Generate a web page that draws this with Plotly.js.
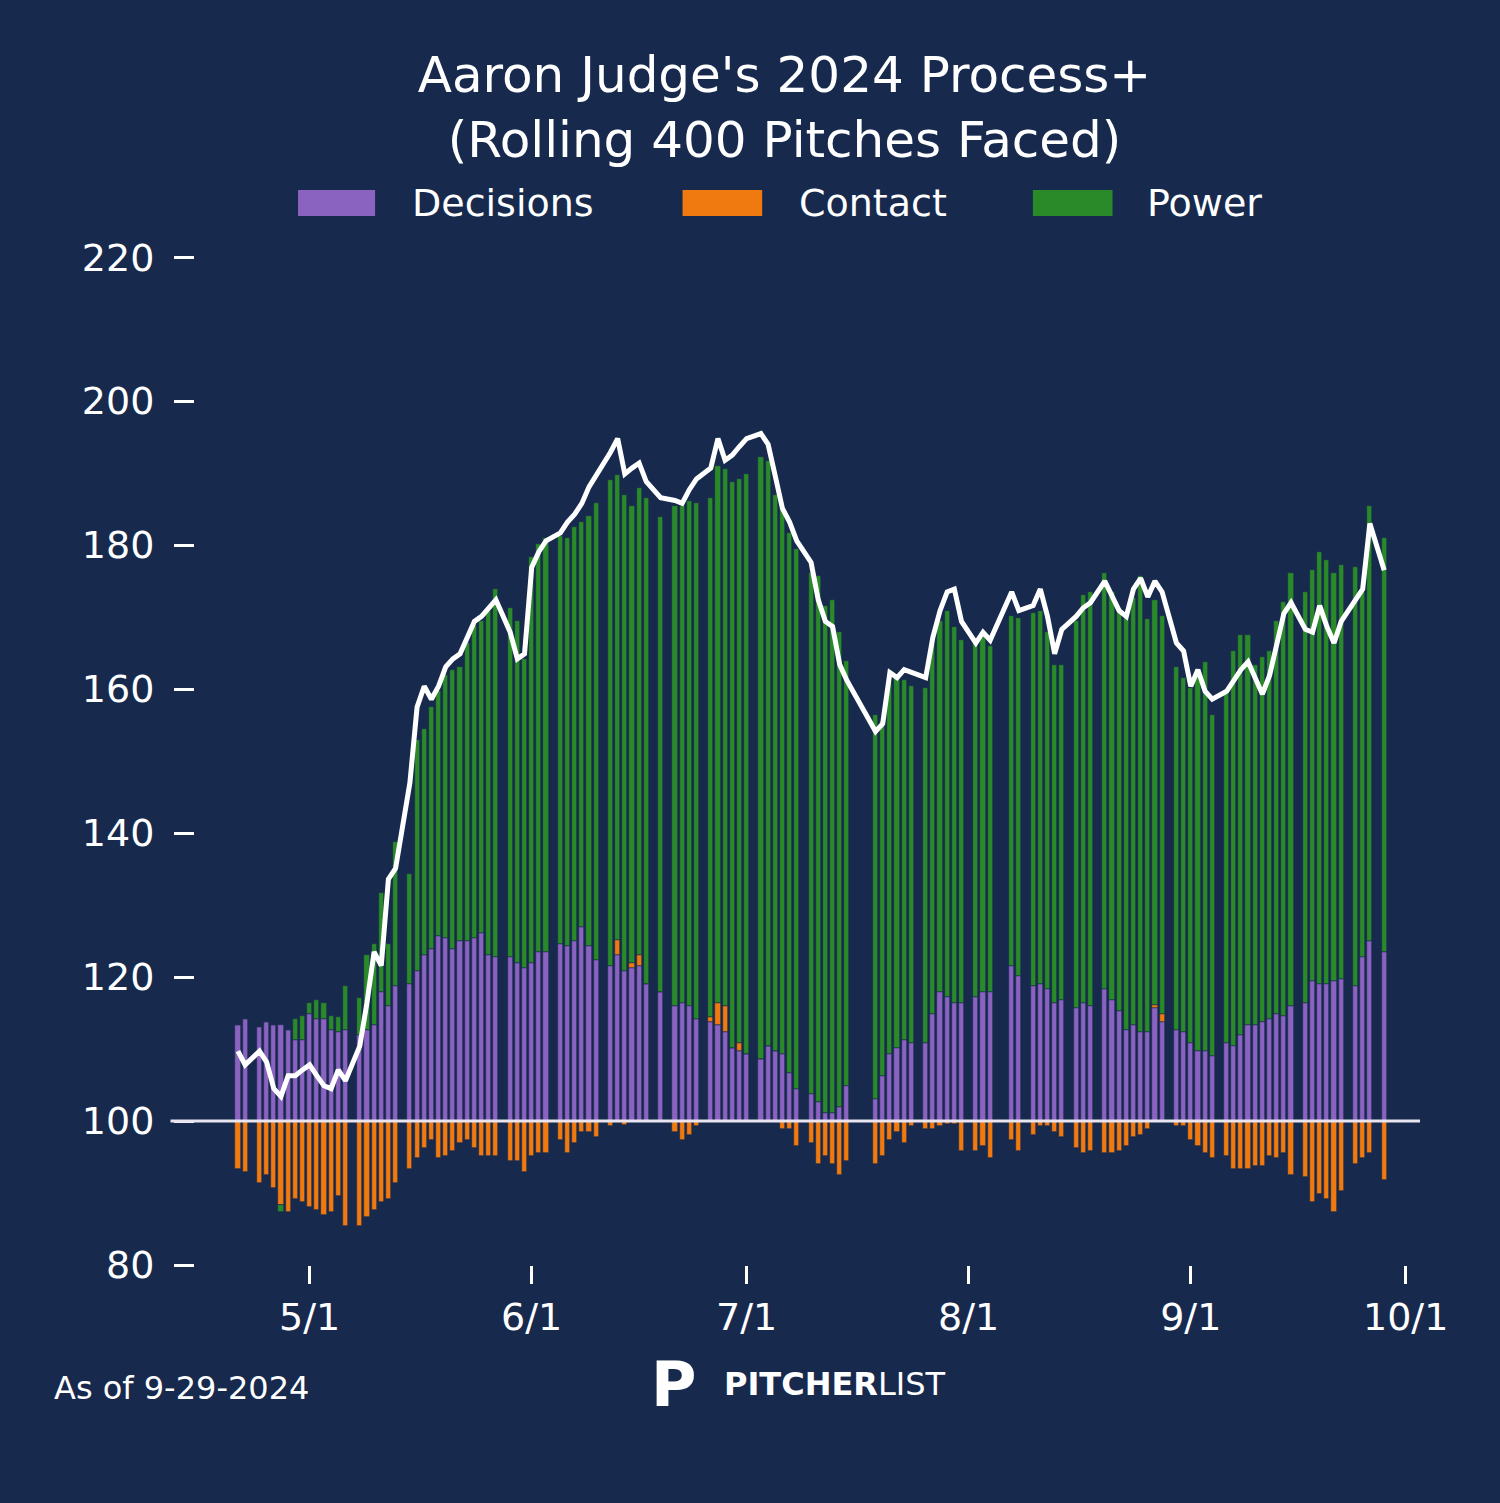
<!DOCTYPE html>
<html>
<head>
<meta charset="utf-8">
<script src="https://cdn.plot.ly/plotly-3.0.1.min.js"></script>
<style>
  html, body { margin: 0; padding: 0; background: #172a4e; }
  #chart { width: 1500px; height: 1503px; }
</style>
</head>
<body>
<div id="chart"></div>
<script>
// game days (month/day, 2024)
var days = [
  "4/21","4/22","4/24","4/25","4/26","4/27","4/28","4/29","4/30","5/1","5/2","5/3","5/4","5/5","5/6",
  "5/8","5/9","5/10","5/11","5/12","5/13","5/15","5/16","5/17","5/18","5/19","5/20","5/21","5/22","5/23",
  "5/24","5/25","5/26","5/27","5/29","5/30","5/31","6/1","6/2","6/3","6/5","6/6","6/7","6/8","6/9","6/10",
  "6/12","6/13","6/14","6/15","6/16","6/17","6/19","6/21","6/22","6/23","6/24","6/26","6/27","6/28","6/29",
  "6/30","7/1","7/3","7/4","7/5","7/6","7/7","7/8","7/10","7/11","7/12","7/13","7/14","7/15",
  "7/19","7/20","7/21","7/22","7/23","7/24","7/26","7/27","7/28","7/29","7/30","7/31","8/2","8/3","8/4",
  "8/7","8/8","8/10","8/11","8/12","8/13","8/14","8/16","8/17","8/18","8/20","8/21","8/22","8/23","8/24",
  "8/25","8/26","8/27","8/28","8/30","8/31","9/1","9/2","9/3","9/4","9/6","9/7","9/8","9/9","9/10",
  "9/11","9/12","9/13","9/14","9/15","9/17","9/18","9/19","9/20","9/21","9/22","9/24","9/25","9/26","9/28"
];

// components, as points above / below 100
var decisions = [
  13.4,14.2,13.1,13.8,13.4,13.4,12.7,11.2,11.2,14.9,14.2,14.2,12.7,12.3,12.7,
  11.9,12.7,13.4,17.9,16.0,18.7,19.0,20.9,23.1,23.9,25.7,25.4,23.9,25.0,25.0,
  25.4,26.1,23.1,22.8,22.8,22.0,21.3,22.0,23.5,23.5,24.6,24.3,25.0,26.9,24.3,22.4,
  21.6,23.1,20.9,21.3,21.6,19.0,17.9,16.0,16.4,16.0,14.2,13.8,13.4,12.3,10.1,
  9.7,9.3,8.6,10.4,9.7,9.3,6.7,4.5,3.7,2.6,1.1,1.1,1.9,4.9,
  3.0,6.3,9.3,10.1,11.2,10.8,10.8,14.9,17.9,17.2,16.4,16.4,17.2,17.9,17.9,
  21.6,20.1,18.7,19.0,18.3,16.4,16.8,15.7,16.4,16.0,18.3,16.8,15.3,12.7,13.4,
  12.3,12.3,15.7,13.8,12.7,12.3,10.8,9.7,9.7,9.0,10.8,10.4,11.9,13.4,13.4,
  13.8,14.2,14.9,14.6,16.0,16.4,19.4,19.0,19.0,19.4,19.8,18.7,22.8,25.0,23.5
];
var contact = [
  -6.7,-7.1,-8.6,-7.5,-9.3,-11.6,-12.7,-10.8,-11.2,-11.9,-12.3,-13.1,-12.7,-10.4,-14.6,
  -14.6,-13.4,-12.3,-11.2,-10.8,-8.6,-6.7,-5.2,-3.7,-2.6,-5.2,-4.9,-4.1,-3.0,-2.6,
  -3.7,-4.9,-4.9,-4.9,-5.6,-5.6,-7.1,-4.9,-4.5,-4.5,-2.6,-4.5,-3.0,-1.5,-1.5,-2.2,
  -0.7,2.0,-0.5,0.7,1.5,0,0,-1.5,-2.6,-1.9,-0.7,0.7,3.0,3.7,0,
  1.1,0,0,0,0,-1.1,-1.1,-3.4,-3.0,-6.0,-4.9,-6.0,-7.5,-5.6,
  -6.0,-4.9,-2.6,-1.5,-3.0,-0.7,-1.1,-1.1,-0.7,-0.4,-0.4,-4.1,-4.1,-3.4,-5.2,
  -2.6,-4.1,-1.9,-0.7,-0.7,-1.5,-2.2,-3.7,-4.5,-4.1,-4.5,-4.5,-4.1,-3.4,-2.2,
  -1.9,-1.1,0.4,1.1,-0.7,-0.7,-2.6,-3.4,-4.5,-5.2,-4.9,-6.7,-6.7,-6.7,-6.3,
  -6.3,-4.9,-5.2,-4.5,-7.5,-7.8,-11.2,-10.1,-10.8,-12.7,-9.7,-6.0,-5.2,-4.5,-8.2
];
var power = [
  0,0,0,0,0,-1.0,0,3.0,3.4,1.5,2.6,2.2,1.9,2.2,6.0,
  5.2,10.4,11.2,13.8,8.6,20.1,15.3,32.1,31.3,33.6,34.0,36.6,38.8,38.1,41.4,
  43.3,43.3,47.8,51.1,48.5,47.4,42.9,56.3,56.7,57.5,56.7,56.7,57.5,56.3,59.7,63.4,
  67.5,64.7,66.0,63.5,64.9,67.5,66.0,69.4,69.0,70.1,71.6,72.0,74.6,74.6,78.7,
  78.4,80.6,83.6,81.3,77.2,75.7,75.0,75.0,72.4,73.1,70.5,71.3,66.0,59.0,
  53.4,49.3,51.5,51.5,50.0,49.6,49.3,51.5,51.5,53.7,52.2,50.4,49.3,49.3,48.1,
  48.5,49.8,51.9,51.9,49.6,47.0,46.6,53.7,56.7,57.5,57.8,56.7,56.0,57.5,59.3,
  63.4,57.5,56.3,55.2,50.4,49.3,49.3,52.9,54.1,47.4,48.5,54.9,55.6,54.1,50.0,
  50.7,51.1,54.5,57.5,60.1,57.1,57.1,60.1,59.0,56.7,57.5,58.2,50.7,60.4,57.5
];
// overall Process+
var processPlus = [
  109.7,107.8,109.7,108.2,104.5,103.4,106.3,106.3,107.1,107.8,106.3,104.9,104.5,107.1,105.6,
  110.4,116.4,123.5,121.6,133.6,135.1,147.0,157.5,160.4,158.6,160.4,163.1,164.2,164.9,167.2,
  169.4,170.1,171.3,172.4,167.9,164.2,164.9,176.9,179.1,180.6,181.7,183.2,184.3,185.8,188.1,189.6,
  192.9,194.8,189.9,190.7,191.4,188.8,186.6,186.2,185.8,187.7,189.2,190.7,194.8,191.8,192.5,
  193.7,194.8,195.5,194.0,189.6,185.1,183.2,180.6,177.6,172.4,169.4,168.7,163.4,161.2,
  154.1,155.2,162.3,161.6,162.7,162.3,161.6,167.2,170.9,173.5,173.9,169.4,166.4,167.9,166.8,
  173.5,170.9,171.6,173.9,170.1,164.9,168.3,170.1,171.3,172.0,175.0,172.8,170.9,170.1,173.9,
  175.4,172.8,175.0,173.5,166.4,165.3,160.4,162.7,159.7,158.6,159.7,161.2,162.7,163.8,161.6,
  159.3,161.9,166.4,170.5,172.0,168.3,167.9,171.6,168.7,166.4,169.4,172.4,173.9,183.0,176.5
];
var yTicks = [80, 100, 120, 140, 160, 180, 200, 220];
var xTicks = ["5/1", "6/1", "7/1", "8/1", "9/1", "10/1"];
var seriesNames = ["Decisions", "Contact", "Power"];
var seriesColors = ["#8a62c0", "#f07a10", "#2a8a2a"];

function toIso(md) {
  var p = md.split("/");
  return "2024-" + ("0" + p[0]).slice(-2) + "-" + ("0" + p[1]).slice(-2);
}
var x = days.map(toIso);
var bg = "#172a4e";
var barW = 0.72 * 86400000;
var edge = { color: bg, width: 0.6 };
var values = [decisions, contact, power];

var data = values.map(function (v, i) {
  return { type: "bar", name: seriesNames[i], x: x, y: v, width: barW,
    marker: { color: seriesColors[i], line: edge }, showlegend: false };
});
data.push({ type: "scatter", mode: "lines", x: x,
  y: processPlus.map(function (v) { return v - 100; }),
  line: { color: "white", width: 5 }, showlegend: false, hoverinfo: "skip" });

// legend drawn by hand: wide colour boxes like the original
var legX = [[0.0841, 0.147, 0.1755], [0.398, 0.463, 0.4914], [0.684, 0.749, 0.7755]];
var shapes = [
  { type: "line", xref: "paper", yref: "y", x0: -0.02, x1: 1.0, y0: 0, y1: 0,
    line: { color: "#e8e4f0", width: 3 } },
];
var annotations = [
  { text: "As of 9-29-2024", xref: "paper", yref: "paper", x: -0.117, y: -0.121,
    xanchor: "left", yanchor: "middle", showarrow: false, font: { size: 32, color: "white" } },
  { text: "<b>P</b>", xref: "paper", yref: "paper", x: 0.371, y: -0.118,
    xanchor: "left", yanchor: "middle", showarrow: false, font: { size: 62, color: "white" } },
  { text: "<b>PITCHER</b>LIST", xref: "paper", yref: "paper", x: 0.43, y: -0.117,
    xanchor: "left", yanchor: "middle", showarrow: false, font: { size: 32, color: "white" } },
];
legX.forEach(function (l, i) {
  shapes.push({ type: "rect", xref: "paper", yref: "paper", x0: l[0], x1: l[1], y0: 1.0335, y1: 1.059,
    fillcolor: seriesColors[i], line: { width: 0 } });
  annotations.push({ text: seriesNames[i], xref: "paper", yref: "paper", x: l[2], y: 1.046,
    xanchor: "left", yanchor: "middle", showarrow: false, font: { size: 38, color: "white" } });
});

var layout = {
  width: 1500,
  height: 1503,
  paper_bgcolor: bg,
  plot_bgcolor: bg,
  barmode: "relative",
  bargap: 0,
  showlegend: false,
  font: { family: "DejaVu Sans", color: "white" },
  margin: { l: 195, r: 80, t: 250, b: 238 },
  title: {
    text: "Aaron Judge's 2024 Process+<br>(Rolling 400 Pitches Faced)",
    font: { size: 50, color: "white" },
    x: 0.523, xanchor: "center", yref: "container", y: 0.939, yanchor: "middle",
  },
  xaxis: {
    type: "date",
    range: ["2024-04-15", "2024-10-03"],
    tickvals: xTicks.map(toIso),
    ticktext: xTicks,
    ticks: "outside", ticklen: 18, tickwidth: 3, tickcolor: "white",
    tickfont: { size: 38, color: "white" },
    showgrid: false, zeroline: false, showline: false,
  },
  yaxis: {
    range: [-20, 121],
    tickvals: yTicks.map(function (v) { return v - 100; }),
    ticktext: yTicks.map(String),
    ticks: "outside", ticklen: 20, tickwidth: 3, tickcolor: "white",
    ticklabelstandoff: 12,
    tickfont: { size: 38, color: "white" },
    showgrid: false, zeroline: false, showline: false,
  },
  shapes: shapes,
  annotations: annotations,
};

Plotly.newPlot("chart", data, layout, { displayModeBar: false });
</script>
</body>
</html>
